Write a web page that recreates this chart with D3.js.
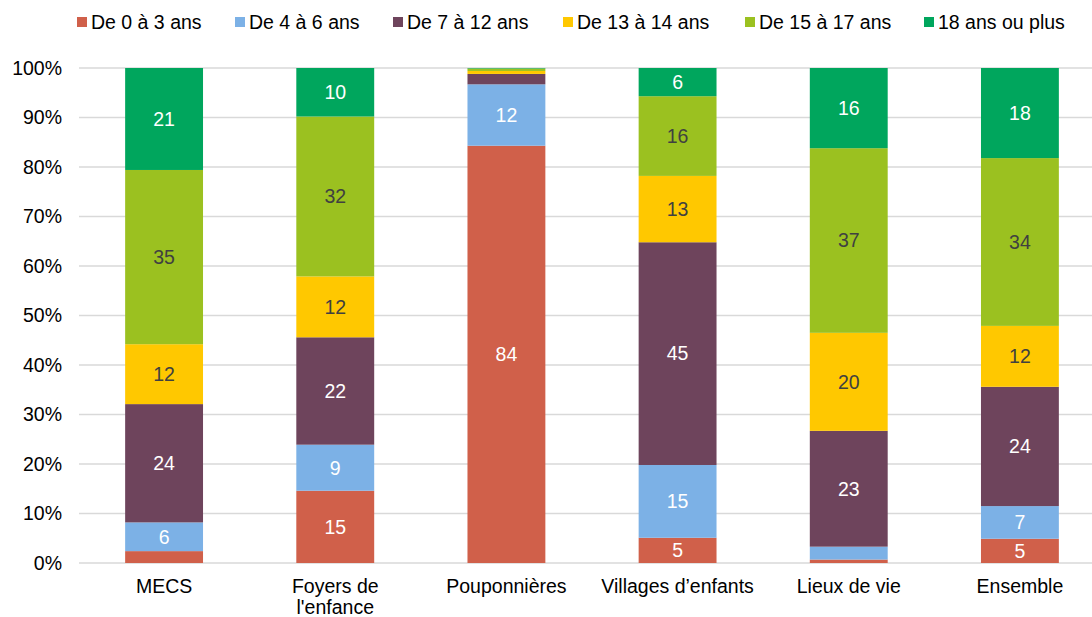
<!DOCTYPE html>
<html>
<head>
<meta charset="utf-8">
<script src="https://cdn.jsdelivr.net/npm/d3@7"></script>
<style>
  body { margin: 0; background: #fff; }
  svg { display: block; font-family: "Liberation Sans", Arial, sans-serif; }
</style>
</head>
<body>
<div id="main"></div>
<script>
var categories = ["MECS", "Foyers de l'enfance", "Pouponnières", "Villages d’enfants", "Lieux de vie", "Ensemble"];
var seriesNames = ["De 0 à 3 ans", "De 4 à 6 ans", "De 7 à 12 ans", "De 13 à 14 ans", "De 15 à 17 ans", "18 ans ou plus"];
var age0_3   = [2.4, 14.6, 84.3, 5.1, 0.7, 4.9];
var age4_6   = [5.8, 9.3, 12.4, 14.7, 2.6, 6.6];
var age7_12  = [23.9, 21.7, 2.1, 45.0, 23.4, 24.1];
var age13_14 = [12.1, 12.3, 0.6, 13.4, 19.8, 12.3];
var age15_17 = [35.2, 32.3, 0.5, 16.1, 37.3, 33.9];
var age18p   = [20.6, 9.8, 0.1, 5.7, 16.2, 18.2];
var yTicks = [0, 10, 20, 30, 40, 50, 60, 70, 80, 90, 100];

var colors = ["#d0604a", "#7cb1e6", "#6e445c", "#ffc800", "#9bc120", "#00a65d"];
var labelColors = ["#fff", "#fff", "#fff", "#404040", "#404040", "#fff"];

var width = 1092, height = 617, fs = 19.5;

var allSeries = [age0_3, age4_6, age7_12, age13_14, age15_17, age18p];
var rows = categories.map(function (c, i) {
  var r = { cat: c };
  seriesNames.forEach(function (s, j) { r[s] = allSeries[j][i]; });
  return r;
});
var stacked = d3.stack().keys(seriesNames)(rows);

var svg = d3.select("#main").append("svg")
  .attr("width", width)
  .attr("height", height);

var x = d3.scaleBand()
  .domain(categories)
  .range([78.5, 1105.5])
  .paddingInner(0.545)
  .paddingOuter(0.2725);

var y = d3.scaleLinear()
  .domain([0, 100])
  .range([563, 68]);

// gridlines
svg.append("g").selectAll("line")
  .data(yTicks)
  .enter().append("line")
  .attr("x1", 79)
  .attr("x2", width)
  .attr("y1", function (d) { return y(d); })
  .attr("y2", function (d) { return y(d); })
  .attr("stroke", "#d9d9d9")
  .attr("stroke-width", 1.5);

// y axis labels
var yAxis = d3.axisLeft(y)
  .tickValues(yTicks)
  .tickFormat(function (d) { return d + "%"; })
  .tickSize(0)
  .tickPadding(0);
var ya = svg.append("g")
  .attr("transform", "translate(62,0)")
  .call(yAxis);
ya.select(".domain").remove();
ya.selectAll("text")
  .attr("font-size", fs)
  .attr("font-family", "Liberation Sans, Arial, sans-serif")
  .attr("fill", "#000");

// bars
var layers = svg.append("g").selectAll("g")
  .data(stacked)
  .enter().append("g")
  .attr("fill", function (d, i) { return colors[i]; });

layers.selectAll("rect")
  .data(function (d) { return d; })
  .enter().append("rect")
  .attr("x", function (d) { return x(d.data.cat); })
  .attr("width", x.bandwidth())
  .attr("y", function (d) { return y(d[1]); })
  .attr("height", function (d) { return y(d[0]) - y(d[1]); });

// value labels
stacked.forEach(function (layer, i) {
  svg.append("g").selectAll("text")
    .data(layer.filter(function (d) { return d[1] - d[0] >= 4; }))
    .enter().append("text")
    .attr("x", function (d) { return x(d.data.cat) + x.bandwidth() / 2; })
    .attr("y", function (d) { return y((d[0] + d[1]) / 2); })
    .attr("dy", "0.35em")
    .attr("text-anchor", "middle")
    .attr("font-size", fs)
    .attr("fill", labelColors[i])
    .text(function (d) { return Math.round(d[1] - d[0]); });
});

// x axis labels
var xAxis = d3.axisBottom(x).tickSize(0).tickPadding(0).tickFormat("");
var xa = svg.append("g")
  .attr("transform", "translate(0,563)")
  .call(xAxis);
xa.select(".domain").remove();
var xLines = {
  "Foyers de l'enfance": ["Foyers de", "l'enfance"]
};
xa.selectAll(".tick").each(function (d) {
  var lines = xLines[d] || [d];
  var t = d3.select(this).append("text")
    .attr("text-anchor", "middle")
    .attr("font-size", fs)
    .attr("font-family", "Liberation Sans, Arial, sans-serif")
    .attr("fill", "#000");
  lines.forEach(function (l, k) {
    t.append("tspan").attr("x", 0).attr("y", 30 + k * 21).text(l);
  });
});

// legend
var legendX = [77, 235, 393, 563, 745, 924];
var legend = svg.append("g").selectAll("g")
  .data(seriesNames)
  .enter().append("g")
  .attr("transform", function (d, i) { return "translate(" + legendX[i] + ",0)"; });
legend.append("rect")
  .attr("x", 0).attr("y", 17)
  .attr("width", 10).attr("height", 10)
  .attr("fill", function (d, i) { return colors[i]; });
legend.append("text")
  .attr("x", 14).attr("y", 29)
  .attr("font-size", fs)
  .attr("fill", "#000")
  .text(function (d) { return d; });
</script>
</body>
</html>
